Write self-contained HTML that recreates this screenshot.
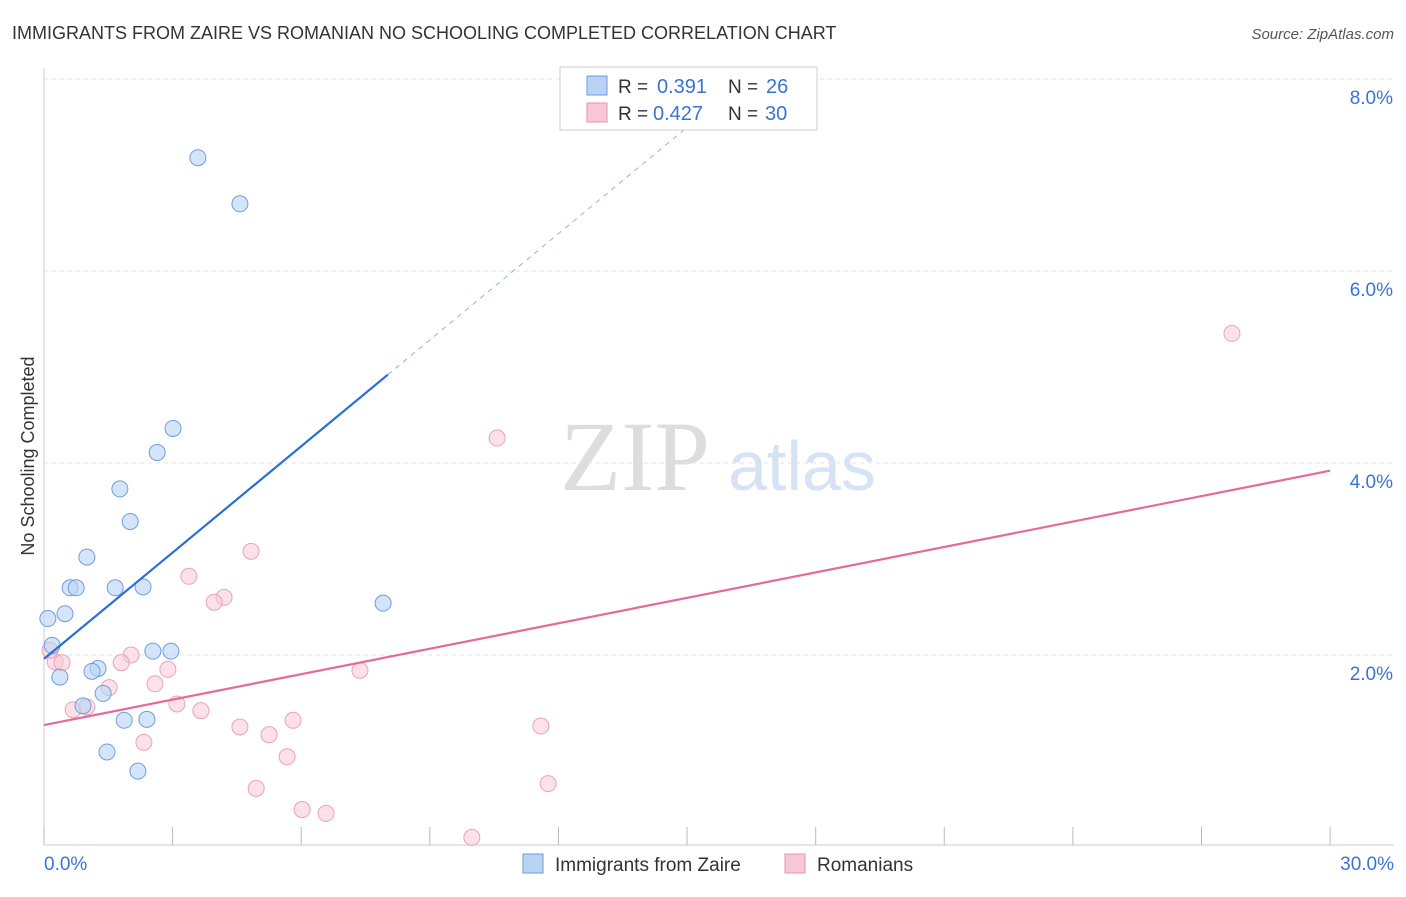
<!DOCTYPE html>
<html><head><meta charset="utf-8"><style>
body{margin:0;background:#fff;font-family:"Liberation Sans",sans-serif;}
</style></head><body>
<svg id="c" width="1406" height="892" font-family="Liberation Sans, sans-serif" xmlns="http://www.w3.org/2000/svg">
<text x="12" y="39" font-size="18" fill="#333">IMMIGRANTS FROM ZAIRE VS ROMANIAN NO SCHOOLING COMPLETED CORRELATION CHART</text>
<text x="1394" y="39" font-size="15" fill="#555" font-style="italic" text-anchor="end">Source: ZipAtlas.com</text>
<text x="34" y="456" font-size="18" fill="#333" text-anchor="middle" transform="rotate(-90 34 456)">No Schooling Completed</text>
<text x="635" y="490" font-size="100" fill="#ddd" style="font-family:'Liberation Serif',serif" text-anchor="middle">ZIP</text>
<text x="802" y="490" font-size="70" fill="#d5e3f5" text-anchor="middle">atlas</text>
<g id="grid"></g><g id="marks"></g>
<g>
<rect x="560" y="67" width="257" height="63" fill="#fff" stroke="#ccc"/>
<rect x="587" y="76" width="20" height="19" fill="#b9d3f5" stroke="#6c9be0"/>
<rect x="587" y="103" width="20" height="19" fill="#f9c8d6" stroke="#e890ab"/>
<text x="618" y="93" font-size="19" fill="#333">R =</text>
<text x="657" y="93" font-size="20" fill="#3a73d6">0.391</text>
<text x="728" y="93" font-size="19" fill="#333">N =</text>
<text x="766" y="93" font-size="20" fill="#3a73d6">26</text>
<text x="618" y="120" font-size="19" fill="#333">R =</text>
<text x="653" y="120" font-size="20" fill="#3a73d6">0.427</text>
<text x="728" y="120" font-size="19" fill="#333">N =</text>
<text x="765" y="120" font-size="20" fill="#3a73d6">30</text>
</g>
<g>
<rect x="523" y="854" width="20" height="19" fill="#b9d3f5" stroke="#6c9be0"/>
<text x="555" y="871" font-size="19" fill="#333">Immigrants from Zaire</text>
<rect x="785" y="854" width="20" height="19" fill="#f9c8d6" stroke="#e890ab"/>
<text x="817" y="871" font-size="19" fill="#333">Romanians</text>
</g>
</svg>
<script>
const xTicks=[0,3,6,9,12,15,18,21,24,27,30];
const yTicks=[2,4,6,8];
const yTickLabels=["2.0%","4.0%","6.0%","8.0%"];
const xLabels=["0.0%","30.0%"];
const zaireX=[3.59,4.57,3.01,2.64,1.77,2.01,1.00,0.61,0.75,1.66,2.31,0.09,0.49,7.91,0.19,2.54,2.96,1.26,1.12,0.37,1.38,0.91,1.87,2.40,1.47,2.19];
const zaireY=[7.18,6.70,4.36,4.11,3.73,3.39,3.02,2.70,2.70,2.70,2.71,2.38,2.43,2.54,2.10,2.04,2.04,1.86,1.83,1.77,1.60,1.47,1.32,1.33,0.99,0.79];
const romX=[27.71,10.57,4.83,3.38,4.20,3.97,0.26,0.42,2.03,1.80,2.89,7.37,2.59,1.52,0.68,1.00,3.10,3.66,5.81,4.57,11.59,5.25,2.33,5.67,4.95,11.76,6.02,6.58,9.98,0.14];
const romY=[5.35,4.26,3.08,2.82,2.60,2.55,1.93,1.92,2.00,1.92,1.85,1.84,1.70,1.66,1.43,1.46,1.49,1.42,1.32,1.25,1.26,1.17,1.09,0.94,0.61,0.66,0.39,0.35,0.10,2.05];
const zaireLine=[0,1.96,8.02,4.92];
const romLine=[0,1.27,30,3.92];
const NS="http://www.w3.org/2000/svg";
const X=v=>44+v*42.87, Y=v=>847-v*96;
function mk(t,a,p){const e=document.createElementNS(NS,t);for(const k in a)e.setAttribute(k,a[k]);p.appendChild(e);return e;}
const g=document.getElementById('grid'),m=document.getElementById('marks');
yTicks.forEach((t,i)=>{
 const l=mk('line',{x1:44,x2:1394,y1:Y(t),y2:Y(t),stroke:'#e3e3e3','stroke-dasharray':'4,4'},g);
 
 
 const tx=mk('text',{x:1393,y:Y(t)+25,'font-size':19,fill:'#3a73d6','text-anchor':'end'},g);
 tx.textContent=yTickLabels[i];
 
 
});
const ax=mk('line',{x1:44,x2:1394,y1:845,y2:845,stroke:'#ccc'},g);


const ay=mk('line',{x1:44,x2:44,y1:68,y2:845,stroke:'#ccc'},g);


xTicks.forEach(t=>{
 const l=mk('line',{x1:X(t),x2:X(t),y1:827,y2:845,stroke:'#bbb'},g);
 
 
});
[[0,44,'start'],[30,1394,'end']].forEach((d,i)=>{
 const tx=mk('text',{x:d[1],y:870,'font-size':19,fill:'#3a73d6','text-anchor':d[2]},g);
 tx.textContent=xLabels[i];
 
 
});
romX.forEach((v,i)=>{
 const c=mk('circle',{cx:X(v),cy:Y(romY[i]),r:8,fill:'rgba(249,200,214,0.55)',stroke:'#eaa2b9','stroke-width':1},m);
 
 
});
zaireX.forEach((v,i)=>{
 const c=mk('circle',{cx:X(v),cy:Y(zaireY[i]),r:8,fill:'rgba(185,211,245,0.6)',stroke:'#6f9de0','stroke-width':1},m);
 
 
});
const slope=(zaireLine[3]-zaireLine[1])/(zaireLine[2]-zaireLine[0]);
const xe=zaireLine[2]+(8.0-zaireLine[3])/slope;
const d=mk('line',{x1:X(zaireLine[2]),y1:Y(zaireLine[3]),x2:X(xe),y2:Y(8.0),stroke:'#8fb2e6','stroke-dasharray':'5,5','stroke-width':1},m);


const zl=mk('line',{x1:X(zaireLine[0]),y1:Y(zaireLine[1]),x2:X(zaireLine[2]),y2:Y(zaireLine[3]),stroke:'#2a6fd6','stroke-width':2.2},m);


const rl=mk('line',{x1:X(romLine[0]),y1:Y(romLine[1]),x2:X(romLine[2]),y2:Y(romLine[3]),stroke:'#e5699a','stroke-width':2.2},m);


</script>
</body></html>
